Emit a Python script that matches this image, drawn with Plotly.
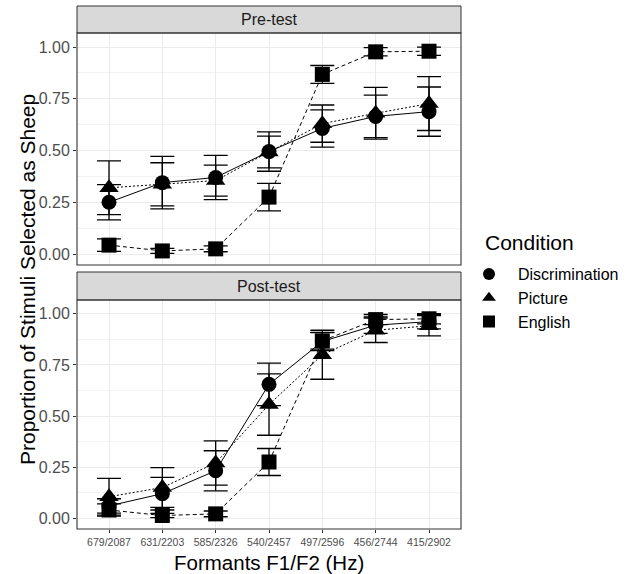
import plotly.graph_objects as go
from plotly.subplots import make_subplots

formants = ["679/2087", "631/2203", "585/2326", "540/2457", "497/2596", "456/2744", "415/2902"]
conditions = ["Discrimination", "Picture", "English"]
panels = ["Pre-test", "Post-test"]

pre_disc = [0.25, 0.345, 0.37, 0.495, 0.607, 0.665, 0.688]
pre_disc_se = [0.085, 0.127, 0.107, 0.095, 0.09, 0.103, 0.119]
pre_pic = [0.32, 0.337, 0.355, 0.493, 0.63, 0.68, 0.727]
pre_pic_se = [0.13, 0.104, 0.075, 0.077, 0.09, 0.125, 0.13]
pre_eng = [0.043, 0.015, 0.025, 0.275, 0.868, 0.977, 0.98]
pre_eng_se = [0.03, 0.012, 0.014, 0.066, 0.043, 0.02, 0.02]

post_disc = [0.06, 0.12, 0.232, 0.655, 0.865, 0.945, 0.962]
post_disc_se = [0.035, 0.08, 0.098, 0.104, 0.045, 0.04, 0.035]
post_pic = [0.105, 0.15, 0.27, 0.556, 0.80, 0.92, 0.942]
post_pic_se = [0.09, 0.097, 0.108, 0.15, 0.12, 0.06, 0.05]
post_eng = [0.04, 0.013, 0.021, 0.275, 0.868, 0.972, 0.976]
post_eng_se = [0.03, 0.01, 0.014, 0.066, 0.04, 0.025, 0.025]

W, H = 634, 574
FONT = "Liberation Sans, Arial, sans-serif"

# plot area in pixels
L, R, T, B = 77, 461, 33, 529


def px(x):
    return (x - L) / (R - L)


def py(y):
    return (B - y) / (B - T)


symbols = {"Discrimination": "circle", "Picture": "triangle-up", "English": "square"}
sizes = {"Discrimination": 15, "Picture": 17, "English": 15}
dashes = {"Discrimination": "solid", "Picture": "2px,2px", "English": "4px,3px"}

data = {
    "Pre-test": {"Discrimination": (pre_disc, pre_disc_se),
                 "Picture": (pre_pic, pre_pic_se),
                 "English": (pre_eng, pre_eng_se)},
    "Post-test": {"Discrimination": (post_disc, post_disc_se),
                  "Picture": (post_pic, post_pic_se),
                  "English": (post_eng, post_eng_se)},
}

fig = make_subplots(rows=2, cols=1, shared_xaxes=True)

for r, panel in enumerate(panels, start=1):
    for cond in conditions:
        vals, se = data[panel][cond]
        fig.add_trace(go.Scatter(
            x=formants, y=vals, mode="lines+markers",
            line=dict(color="black", width=1, dash=dashes[cond]),
            marker=dict(symbol=symbols[cond], size=sizes[cond], color="black"),
            error_y=dict(type="data", array=se, visible=True, color="black",
                         thickness=1.3, width=12),
            showlegend=False, name=cond,
        ), row=r, col=1)

for cond in conditions:
    fig.add_trace(go.Scatter(
        x=[None], y=[None], mode="markers", name=cond,
        marker=dict(symbol=symbols[cond], size=14, color="black"),
        showlegend=True,
    ), row=1, col=1)

top_panel = (33, 265)
bot_panel = (300, 529)

yaxis_common = dict(
    range=[-0.053, 1.068], tickvals=[0, 0.25, 0.5, 0.75, 1.0],
    ticktext=["0.00", "0.25", "0.50", "0.75", "1.00"],
    showgrid=True, gridcolor="#EBEBEB", gridwidth=1.1,
    minor=dict(tickvals=[0.125, 0.375, 0.625, 0.875], showgrid=True,
               gridcolor="#F2F2F2", gridwidth=0.6, ticks=""),
    ticks="outside", ticklen=3, tickcolor="#333333", tickwidth=1,
    tickfont=dict(size=16, color="#4D4D4D", family=FONT),
    zeroline=False, showline=False, automargin=False,
)
xaxis_common = dict(
    range=[-0.6, 6.6], showgrid=True, gridcolor="#EBEBEB", gridwidth=1.1,
    tickcolor="#333333", tickwidth=1, ticklen=3,
    zeroline=False, showline=False, type="category", automargin=False,
)

fig.update_layout(
    width=W, height=H, margin=dict(l=L, r=W - R, t=T, b=H - B, autoexpand=False),
    paper_bgcolor="white", plot_bgcolor="white",
    font=dict(family=FONT, color="black"),
    xaxis=dict(domain=[0, 1], showticklabels=False, ticks="", **xaxis_common),
    xaxis2=dict(domain=[0, 1], showticklabels=True, ticks="outside",
                tickfont=dict(size=10.5, color="#4D4D4D", family=FONT), **xaxis_common),
    yaxis=dict(domain=[py(top_panel[1]), py(top_panel[0])], **yaxis_common),
    yaxis2=dict(domain=[py(bot_panel[1]), py(bot_panel[0])], **yaxis_common),
    legend=dict(
        x=px(460), y=py(257), xanchor="left", yanchor="top",
        font=dict(size=16, family=FONT, color="black"),
        bgcolor="rgba(0,0,0,0)", itemsizing="constant", itemwidth=48,
        tracegroupgap=0,
    ),
)

shapes = []
annotations = []
strips = [(6, 33, "Pre-test"), (272, 300, "Post-test")]
for (s0, s1, label) in strips:
    shapes.append(dict(type="rect", xref="paper", yref="paper",
                       x0=0, x1=1, y0=py(s1), y1=py(s0),
                       fillcolor="#D9D9D9", line=dict(color="#333333", width=1), layer="above"))
    annotations.append(dict(text=label, xref="paper", yref="paper",
                            x=0.5, y=py((s0 + s1) / 2),
                            showarrow=False, font=dict(size=16, color="#1A1A1A", family=FONT),
                            xanchor="center", yanchor="middle"))
for (p0, p1) in [top_panel, bot_panel]:
    shapes.append(dict(type="rect", xref="paper", yref="paper",
                       x0=0, x1=1, y0=py(p1), y1=py(p0),
                       fillcolor="rgba(0,0,0,0)", line=dict(color="#333333", width=1.1), layer="above"))

annotations.append(dict(text="Condition", xref="paper", yref="paper",
                        x=px(483), y=py(243), showarrow=False,
                        font=dict(size=21, color="black", family=FONT),
                        xanchor="left", yanchor="middle"))
annotations.append(dict(text="Proportion of Stimuli Selected as Sheep", xref="paper", yref="paper",
                        x=px(27), y=py(280), textangle=-90, showarrow=False,
                        font=dict(size=21, color="black", family=FONT),
                        xanchor="center", yanchor="middle"))
annotations.append(dict(text="Formants F1/F2 (Hz)", xref="paper", yref="paper",
                        x=px(269), y=py(562), showarrow=False,
                        font=dict(size=20.5, color="black", family=FONT),
                        xanchor="center", yanchor="middle"))

fig.update_layout(shapes=shapes, annotations=annotations)
fig.write_html("out.html", config={"displayModeBar": False},
               post_script="document.body.style.margin='0px';")
